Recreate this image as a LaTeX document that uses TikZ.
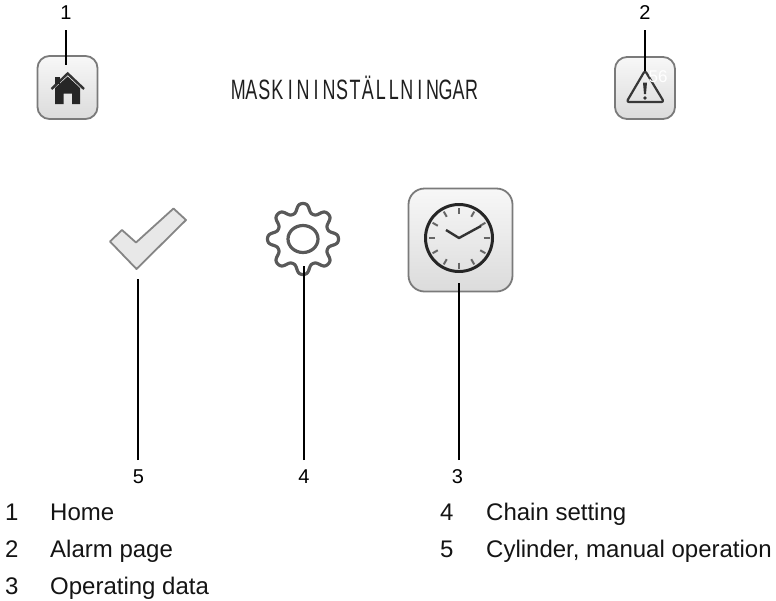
\documentclass[tikz,border=0pt]{standalone}
\usepackage{fontspec}
\usepackage{graphicx}
\setmainfont{Liberation Sans}
\newcommand{\tchar}[1]{\makebox[12.95pt][c]{\scalebox{0.64}[1]{#1}}}
\tikzset{
  numlabel/.style={font=\fontsize{20}{22}\selectfont,inner sep=2pt,text=black},
  legend/.style={font=\fontsize{24}{26}\selectfont,inner sep=0pt,anchor=base west,text=black!92},
  leader/.style={draw=black,line width=1.2pt},
  button/.style={draw=black!52,line width=1.8pt,rounded corners=#1,top color=white!97!black,bottom color=white!86!black,inner sep=0pt},
  iconline/.style={draw=black!78,line cap=round,line join=round},
}
\begin{document}
\begin{tikzpicture}[x=1pt,y=-1pt]
\useasboundingbox[fill=white] (0,0) rectangle (776,600);
% buttons
\node[button=12pt,minimum width=60pt,minimum height=63pt] (home) at (67.5,87.5) {};
\node[button=12pt,minimum width=60pt,minimum height=62pt] (alarm) at (645,88) {};
\node[button=16pt,minimum width=104pt,minimum height=103pt] (clock) at (460.5,240) {};
% home icon
\fill[black!85] (55,88) -- (67.7,76.5) -- (80,88) -- (80,104) -- (72,104) -- (72,93.5) -- (63.5,93.5) -- (63.5,104) -- (55,104) -- cycle;
\draw[black!80,line width=2.4pt,line join=miter] (51.5,89) -- (67.7,73.5) -- (84,89);
\fill[black!85] (55,77) rectangle (60,84);
% alarm icon
\draw[iconline,line width=2.2pt,rounded corners=2.5pt] (645,70.5) -- (664,102) -- (626.5,102) -- cycle;
\fill[black!80] (643,82.5) -- (647,82.5) -- (646,94) -- (644,94) -- cycle;
\fill[black!80] (645,98) circle (1.9pt);
\node[font=\fontsize{17}{18}\selectfont,text=white,inner sep=0pt] (alarmcount) at (658,76.5) {56};
% clock icon
\draw[black!85,line width=3pt] (459,238) coordinate (clockc) circle (33.5pt);
\foreach \a in {0,30,...,330}{
  \draw[black!60,line width=2pt] (clockc) ++(\a:24.5pt) -- ++(\a:6pt);
}
\draw[black!80,line width=2.4pt,line join=round] (446,230) -- (459,238) -- (481,226);
% check icon
\draw[draw=black!48,fill=black!9,line width=1.8pt,line join=round]
  (110,241.5) -- (122,230) -- (136,242.5) -- (173.5,208.5) -- (186,220) -- (136.5,269) -- cycle;
% gear icon
\draw[black!65,line width=3.2pt,line join=round,smooth,samples=240,domain=0:360,variable=\t]
  plot ({303+(31+5.2*tanh(1.3*cos(8*(\t-90))))*cos(\t)},{239+(31+5.2*tanh(1.3*cos(8*(\t-90))))*sin(\t)}) -- cycle;
\draw[black!65,line width=3.2pt] (303,239) ellipse (15pt and 13.5pt);
% title
\node[inner sep=0pt,text=black!88,font=\fontsize{28}{30}\selectfont] (title) at (355,88) {\tchar{M}\tchar{A}\tchar{S}\tchar{K}\tchar{I}\tchar{N}\tchar{I}\tchar{N}\tchar{S}\tchar{T}\tchar{Ä}\tchar{L}\tchar{L}\tchar{N}\tchar{I}\tchar{N}\tchar{G}\tchar{A}\tchar{R}};
% number labels
\node[numlabel] (n1) at (66,13) {1};
\node[numlabel] (n2) at (645,13) {2};
\node[numlabel] (n5) at (138.5,477) {5};
\node[numlabel] (n4) at (304,477) {4};
\node[numlabel] (n3) at (457.5,477) {3};
% leaders
\coordinate (c1) at (66,65);
\coordinate (c2) at (645,71);
\coordinate (c3) at (459,283);
\coordinate (c4) at (304,266);
\coordinate (c5) at (138,279);
\coordinate (t1) at (66,30);
\coordinate (t2) at (645,30);
\coordinate (t3) at (459,460);
\coordinate (t4) at (304,460);
\coordinate (t5) at (138,460);
\draw[leader] (t1) -- (c1);
\draw[leader] (t2) -- (c2);
\draw[leader] (t3) -- (c3);
\draw[leader] (t4) -- (c4);
\draw[leader] (t5) -- (c5);
% legend
\node[legend] (l1n) at (5,520) {1};
\node[legend] (l1t) at (50,520) {Home};
\node[legend] (l2n) at (5,557) {2};
\node[legend] (l2t) at (50,557) {Alarm page};
\node[legend] (l3n) at (5,594) {3};
\node[legend] (l3t) at (50,594) {Operating data};
\node[legend] (l4n) at (440,520) {4};
\node[legend] (l4t) at (486,520) {Chain setting};
\node[legend] (l5n) at (440,557) {5};
\node[legend] (l5t) at (486,557) {Cylinder, manual operation};
\end{tikzpicture}
\end{document}
